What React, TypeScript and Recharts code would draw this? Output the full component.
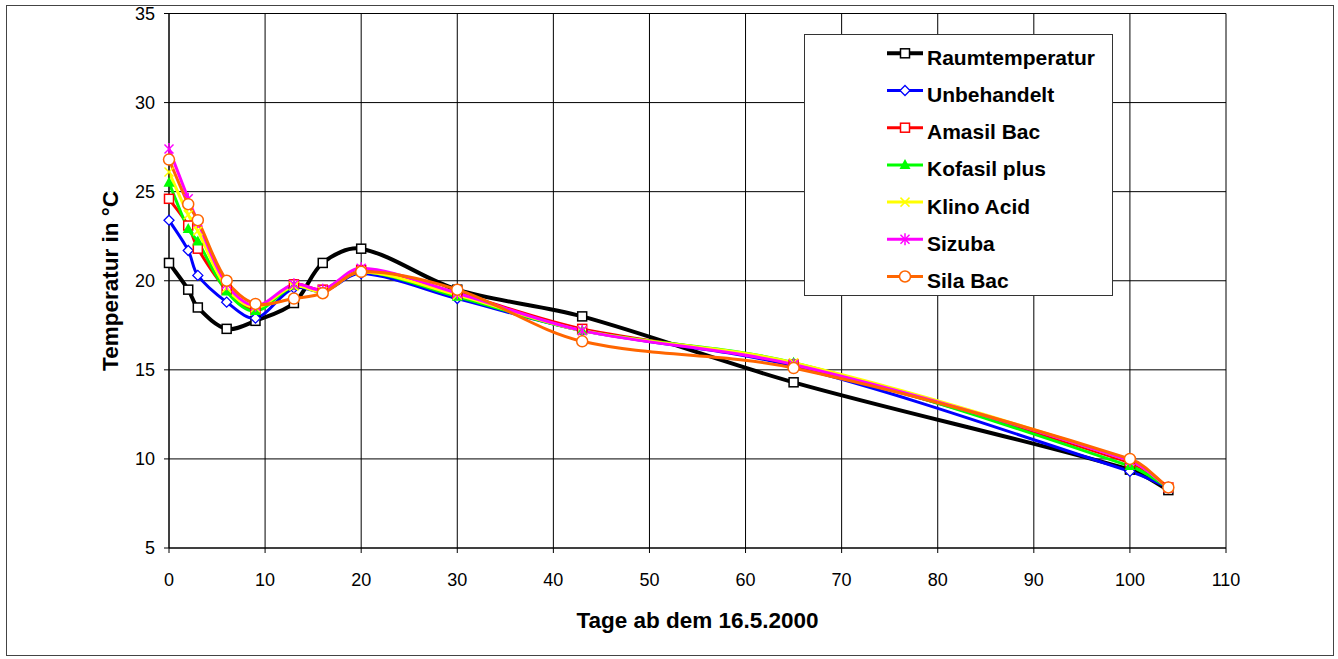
import React from "react";
import { LineChart, Line, XAxis, YAxis, CartesianGrid, Label } from "recharts";

const days = [0, 2, 3, 6, 9, 13, 16, 20, 30, 43, 65, 100, 104];

const raumtemperatur = [21.0, 19.5, 18.5, 17.3, 17.75, 18.75, 21.0, 21.8, 19.5, 18.0, 14.3, 9.4, 8.25];
const unbehandelt = [23.4, 21.7, 20.3, 18.8, 17.9, 19.6, 19.4, 20.4, 19.0, 17.2, 15.2, 9.3, 8.4];
const amasilBac = [24.6, 23.1, 21.8, 19.5, 18.4, 19.8, 19.5, 20.6, 19.3, 17.3, 15.3, 9.8, 8.4];
const kofasilPlus = [25.5, 22.9, 22.2, 19.4, 18.3, 19.7, 19.4, 20.5, 19.1, 17.2, 15.4, 9.6, 8.4];
const klinoAcid = [26.1, 23.7, 22.8, 19.6, 18.5, 19.7, 19.4, 20.5, 19.2, 17.2, 15.4, 9.9, 8.4];
const sizuba = [27.4, 24.6, 23.3, 19.8, 18.6, 19.8, 19.5, 20.7, 19.3, 17.2, 15.3, 9.9, 8.4];
const silaBac = [26.8, 24.3, 23.4, 20.0, 18.7, 19.0, 19.3, 20.5, 19.5, 16.6, 15.1, 10.0, 8.4];

const xTicks = [0, 10, 20, 30, 40, 50, 60, 70, 80, 90, 100, 110];
const yTicks = [5, 10, 15, 20, 25, 30, 35];

const FONT = '"Liberation Sans", Arial, sans-serif';

const series = [
  { key: "raum", name: "Raumtemperatur", values: raumtemperatur, color: "#000000", width: 4, shape: "square" },
  { key: "unbeh", name: "Unbehandelt", values: unbehandelt, color: "#0000ff", width: 3, shape: "diamond" },
  { key: "amasil", name: "Amasil Bac", values: amasilBac, color: "#ff0000", width: 3, shape: "square" },
  { key: "kofasil", name: "Kofasil plus", values: kofasilPlus, color: "#00ff00", width: 3, shape: "triangle" },
  { key: "klino", name: "Klino Acid", values: klinoAcid, color: "#ffff00", width: 3, shape: "cross" },
  { key: "sizuba", name: "Sizuba", values: sizuba, color: "#ff00ff", width: 3, shape: "star" },
  { key: "sila", name: "Sila Bac", values: silaBac, color: "#ff6600", width: 3, shape: "circle" },
];

const data = days.map((d, i) => {
  const row: any = { day: d };
  series.forEach((s) => (row[s.key] = s.values[i]));
  return row;
});

// smoothed line similar to Excel's, tangents scaled by chord length
const smoothCurve = (context: any) => {
  let pts: number[][] = [];
  return {
    areaStart() {},
    areaEnd() {},
    lineStart() {
      pts = [];
    },
    lineEnd() {
      const n = pts.length;
      if (!n) return;
      context.moveTo(pts[0][0], pts[0][1]);
      const dist = (a: number[], b: number[]) => Math.hypot(b[0] - a[0], b[1] - a[1]);
      for (let i = 0; i < n - 1; i++) {
        const p0 = pts[Math.max(i - 1, 0)];
        const p1 = pts[i];
        const p2 = pts[i + 1];
        const p3 = pts[Math.min(i + 2, n - 1)];
        const d01 = dist(p0, p1);
        const d12 = dist(p1, p2);
        const d23 = dist(p2, p3);
        const f1 = d01 + d12 > 0 ? d12 / (d01 + d12) / 3 : 0;
        const f2 = d12 + d23 > 0 ? d12 / (d12 + d23) / 3 : 0;
        context.bezierCurveTo(
          p1[0] + (p2[0] - p0[0]) * f1,
          p1[1] + (p2[1] - p0[1]) * f1,
          p2[0] - (p3[0] - p1[0]) * f2,
          p2[1] - (p3[1] - p1[1]) * f2,
          p2[0],
          p2[1]
        );
      }
    },
    point(x: number, y: number) {
      pts.push([+x, +y]);
    },
  };
};

function Marker({ shape, color, cx, cy }: { shape: string; color: string; cx: number; cy: number }) {
  switch (shape) {
    case "square":
      return <rect x={cx - 4.5} y={cy - 4.5} width={9} height={9} fill="#fff" stroke={color} strokeWidth={1.5} />;
    case "diamond":
      return (
        <polygon
          points={`${cx},${cy - 5} ${cx + 5},${cy} ${cx},${cy + 5} ${cx - 5},${cy}`}
          fill="#fff"
          stroke={color}
          strokeWidth={1.3}
        />
      );
    case "triangle":
      return <polygon points={`${cx},${cy - 6} ${cx + 5.5},${cy + 4} ${cx - 5.5},${cy + 4}`} fill={color} />;
    case "cross":
      return (
        <g stroke={color} strokeWidth={1.5}>
          <line x1={cx - 4.5} y1={cy - 4.5} x2={cx + 4.5} y2={cy + 4.5} />
          <line x1={cx - 4.5} y1={cy + 4.5} x2={cx + 4.5} y2={cy - 4.5} />
        </g>
      );
    case "star":
      return (
        <g stroke={color} strokeWidth={1.5}>
          <line x1={cx - 4.5} y1={cy - 4.5} x2={cx + 4.5} y2={cy + 4.5} />
          <line x1={cx - 4.5} y1={cy + 4.5} x2={cx + 4.5} y2={cy - 4.5} />
          <line x1={cx} y1={cy - 6} x2={cx} y2={cy + 6} />
        </g>
      );
    default:
      return <circle cx={cx} cy={cy} r={5.5} fill="#fff" stroke={color} strokeWidth={1.5} />;
  }
}

function LegendBox() {
  return (
    <svg width={310} height={263} style={{ position: "absolute", left: 804, top: 34 }}>
      <rect x={0.5} y={0.5} width={308} height={261} fill="#fff" stroke="#333" strokeWidth={1} />
      {series.map((s, i) => {
        const y = 19.3 + i * 37.2;
        return (
          <g key={s.key}>
            <line x1={83} y1={y} x2={119} y2={y} stroke={s.color} strokeWidth={s.width} />
            <Marker shape={s.shape} color={s.color} cx={101} cy={y} />
            <text x={123} y={y + 11.5} fontFamily={FONT} fontSize={21} fontWeight="bold" fill="#000">
              {s.name}
            </text>
          </g>
        );
      })}
    </svg>
  );
}

export default function App() {
  return (
    <div style={{ position: "absolute", left: 0, top: 0, width: 1338, height: 659, background: "#fff" }}>
      <div
        style={{
          position: "absolute",
          left: 6,
          top: 5,
          width: 1326,
          height: 649,
          border: "1px solid #444",
        }}
      />
      <div style={{ position: "absolute", left: 0, top: 0 }}>
        <LineChart width={1338} height={659} data={data} margin={{ top: 13.5, right: 112, bottom: 0, left: 0 }}>
          <CartesianGrid stroke="#000" strokeWidth={1} />
          <XAxis
            dataKey="day"
            type="number"
            domain={[0, 110]}
            ticks={xTicks}
            height={111}
            tickSize={5}
            tickMargin={20}
            stroke="#000"
            tick={{ fill: "#000", fontSize: 18, fontFamily: FONT }}
          >
            <Label
              content={() => (
                <text x={697.5} y={628} textAnchor="middle" fontFamily={FONT} fontSize={22.5} fontWeight="bold" fill="#000">
                  Tage ab dem 16.5.2000
                </text>
              )}
            />
          </XAxis>
          <YAxis
            type="number"
            domain={[5, 35]}
            ticks={yTicks}
            width={169}
            tickSize={5}
            tickMargin={9}
            stroke="#000"
            tick={{ fill: "#000", fontSize: 18, fontFamily: FONT }}
          >
            <Label
              content={() => (
                <text
                  x={118}
                  y={281}
                  transform="rotate(-90 118 281)"
                  textAnchor="middle"
                  fontFamily={FONT}
                  fontSize={22.5}
                  fontWeight="bold"
                  fill="#000"
                >
                  Temperatur in °C
                </text>
              )}
            />
          </YAxis>
          {series.map((s) => (
            <Line
              key={s.key}
              dataKey={s.key}
              name={s.name}
              type={smoothCurve as any}
              stroke={s.color}
              strokeWidth={s.width}
              isAnimationActive={false}
              activeDot={false}
              dot={(p: any) => (
                <Marker key={`${s.key}-${p.index}`} shape={s.shape} color={s.color} cx={p.cx} cy={p.cy} />
              )}
            />
          ))}
        </LineChart>
      </div>
      <LegendBox />
    </div>
  );
}
